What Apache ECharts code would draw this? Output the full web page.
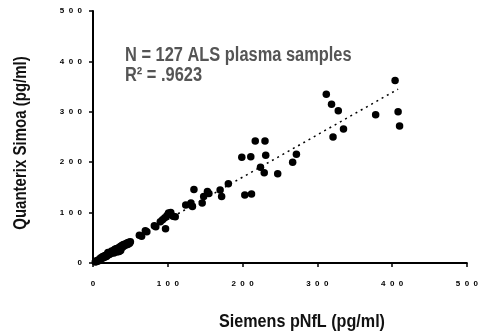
<!DOCTYPE html>
<html>
<head>
<meta charset="utf-8">
<script src="https://cdn.jsdelivr.net/npm/echarts@6/dist/echarts.min.js"></script>
<style>html,body{margin:0;padding:0;background:#fff;}#c{width:481px;height:334px;}</style>
</head>
<body>
<div id="c"></div>
<script>
// Tick labels (spaced digits as in the reference)
var xTickLabels = ['0', '1  0  0', '2  0  0', '3  0  0', '4  0  0', '5  0  0'];
var yTickLabels = ['0', '1  0  0', '2  0  0', '3  0  0', '4  0  0', '5  0  0'];

// Siemens pNfL (x) vs Quanterix Simoa (y), pg/ml
var lowCluster = [
  [3,2],[4,4],[5,3],[6,5],[7,4],[8,7],[9,6],[10,8],[10,10],[11,9],[12,11],[13,10],[13,13],[14,12],
  [15,13],[15,11],[16,15],[17,14],[18,16],[18,13],[19,17],[20,16],[20,21],[21,18],[22,20],[22,17],
  [23,19],[24,22],[25,20],[25,24],[26,21],[27,23],[28,25],[28,20],[29,27],[30,24],[30,28],[31,26],
  [32,29],[32,22],[33,28],[34,30],[35,27],[35,23],[36,32],[37,30],[37,25],[38,34],[39,31],[40,36],
  [41,33],[42,37],[43,35],[44,38],[45,36],[46,40],[47,37],[48,41],[49,39],[50,42]
];
var midPoints = [
  [62,55],[65,53],[70,64],[72,62],[82,74],[84,72],[90,82],[93,86],[96,90],[97,68],[99,94],
  [101,99],[104,100],[107,93],[110,92]
];
var upperPoints = [
  [124,115],[131,119],[133,112],[135,146],[146,119],[148,132],[153,142],[155,138],
  [170,145],[172,132],[181,157],[199,210],[203,135],[211,211],[212,137],[217,242],[224,190],
  [229,179],[230,242],[231,214],[247,177],[267,200],[272,216],
  [312,335],[319,315],[321,250],[328,302],[335,266],[378,294],[404,362],[408,300],[410,272]
];
// Linear fit (dotted)
var trendX = [2, 408];
var trendY = [3.9, 345];

var scatterData = lowCluster.concat(midPoints, upperPoints);
var trendData = trendX.map(function (x, i) { return [x, trendY[i]]; });

var chart = echarts.init(document.getElementById('c'), null, {renderer: 'canvas'});
var tickFont = {fontFamily: "'Liberation Sans', Arial, sans-serif", fontWeight: 'bold', fontSize: 8, color: '#000'};
var nameFont = "'Liberation Sans', Arial, sans-serif";

chart.setOption({
  animation: false,
  backgroundColor: '#fff',
  grid: {left: 93, top: 11, right: 10, bottom: 71, containLabel: false},
  xAxis: {
    type: 'value', min: 0, max: 500, interval: 100,
    splitLine: {show: false},
    axisLine: {lineStyle: {color: '#000', width: 2}},
    axisTick: {show: true, length: 4, lineStyle: {color: '#000', width: 1.5}},
    axisLabel: Object.assign({margin: 17, formatter: function (v) { return xTickLabels[Math.round(v / 100)]; }}, tickFont)
  },
  yAxis: {
    type: 'value', min: 0, max: 500, interval: 100,
    splitLine: {show: false},
    axisLine: {show: true, lineStyle: {color: '#000', width: 2}},
    axisTick: {show: true, length: 4, lineStyle: {color: '#000', width: 1.5}},
    axisLabel: Object.assign({margin: 11, formatter: function (v) { return yTickLabels[Math.round(v / 100)]; }}, tickFont)
  },
  series: [
    {
      type: 'line', data: trendData, symbol: 'none', silent: true,
      lineStyle: {color: '#000', width: 1.5, type: [2, 4]}, z: 1
    },
    {
      type: 'scatter', data: scatterData, symbol: 'circle', symbolSize: 7.5,
      itemStyle: {color: '#000', opacity: 1}, z: 2
    }
  ],
  graphic: [
    {type: 'text', x: 125, y: 45, scaleX: 0.82, style: {text: 'N = 127 ALS plasma samples', font: "bold 20px " + nameFont, fill: '#555', textAlign: 'left', textVerticalAlign: 'top'}},
    {type: 'text', x: 125, y: 65, scaleX: 0.82, style: {text: 'R\u00B2 = .9623', font: "bold 20px " + nameFont, fill: '#555', textAlign: 'left', textVerticalAlign: 'top'}},
    {type: 'text', x: 302, y: 322, scaleX: 0.85, style: {text: 'Siemens pNfL (pg/ml)', font: "bold 19px " + nameFont, fill: '#111', textAlign: 'center', textVerticalAlign: 'middle'}},
    {type: 'text', x: 21, y: 143, rotation: Math.PI / 2, scaleX: 0.79, style: {text: 'Quanterix Simoa (pg/ml)', font: "bold 19px " + nameFont, fill: '#111', textAlign: 'center', textVerticalAlign: 'middle'}}
  ]
});
</script>
</body>
</html>
